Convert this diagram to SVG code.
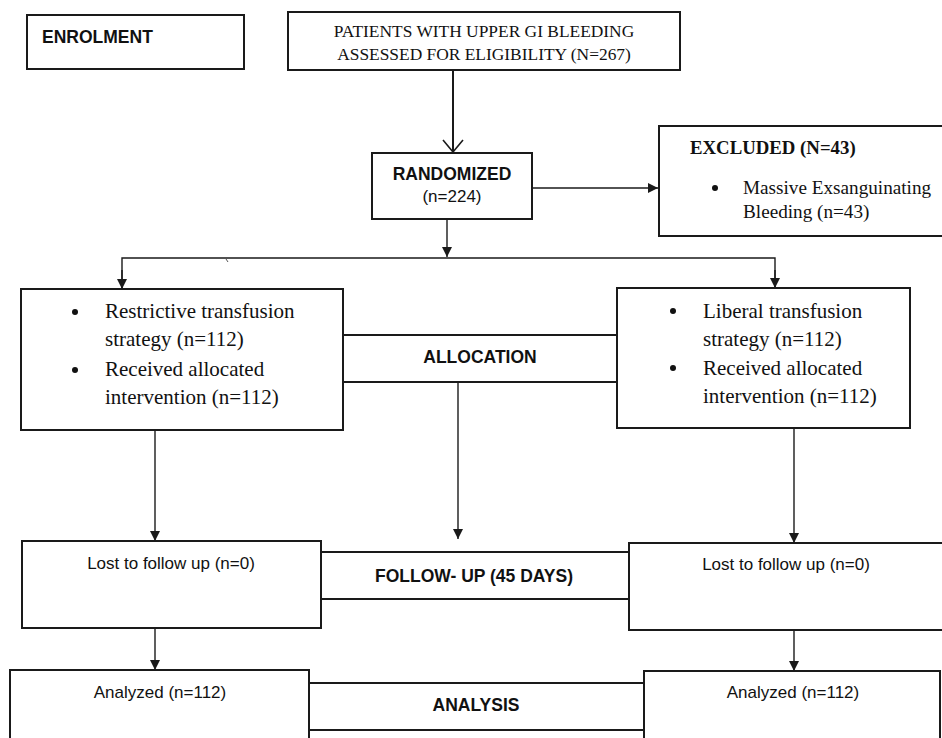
<svg xmlns="http://www.w3.org/2000/svg" width="942" height="738" viewBox="0 0 942 738">
<style>
.box{fill:#fff;stroke:#1a1a1a;stroke-width:2}
.ln{fill:none;stroke:#1a1a1a;stroke-width:1.4}
.sb{font-family:"Liberation Sans",Arial,sans-serif;font-weight:bold;font-size:17.5px;fill:#111}
.sr{font-family:"Liberation Sans",Arial,sans-serif;font-size:17px;fill:#111}
.tr{font-family:"Liberation Serif","Times New Roman",serif;fill:#111}
.tb{font-family:"Liberation Serif","Times New Roman",serif;font-weight:bold;fill:#111}
</style>
<defs>
<marker id="ah" viewBox="0 0 10 10" refX="10" refY="5" markerWidth="10" markerHeight="10" markerUnits="userSpaceOnUse" orient="auto">
<path d="M0,0 L10,5 L0,10 Z" fill="#1a1a1a"/>
</marker>
</defs>
<rect width="942" height="738" fill="#fff"/>
<g id="connectors">
<line x1="453" y1="70" x2="453" y2="151" stroke="#1a1a1a" stroke-width="2"/>
<polyline points="443,140 453,152 463,140" fill="none" stroke="#1a1a1a" stroke-width="1.6"/>
<line class="ln" x1="532" y1="188" x2="658" y2="188" marker-end="url(#ah)"/>
<line class="ln" x1="447" y1="219" x2="447" y2="257" marker-end="url(#ah)"/>
<polyline class="ln" points="122,288 122,258 775,258 775,287"/>
<line class="ln" x1="122" y1="270" x2="122" y2="289" marker-end="url(#ah)"/>
<line class="ln" x1="775" y1="270" x2="775" y2="288" marker-end="url(#ah)"/>
<line x1="226" y1="259" x2="228" y2="262" stroke="#555" stroke-width="1"/>
<line class="ln" x1="155" y1="430" x2="155" y2="541" marker-end="url(#ah)"/>
<line class="ln" x1="458" y1="382" x2="458" y2="539" marker-end="url(#ah)"/>
<line class="ln" x1="794" y1="428" x2="794" y2="543" marker-end="url(#ah)"/>
<line class="ln" x1="155" y1="628" x2="155" y2="670" marker-end="url(#ah)"/>
<line class="ln" x1="794" y1="630" x2="794" y2="671" marker-end="url(#ah)"/>
</g>
<g id="enrolment">
<rect class="box" x="27" y="15" width="217" height="54"/>
<text class="sb" x="42" y="43">ENROLMENT</text>
</g>
<g id="patients">
<rect class="box" x="288" y="12" width="392" height="58"/>
<text class="tr" x="484" y="37" font-size="17.4" text-anchor="middle">PATIENTS WITH UPPER GI BLEEDING</text>
<text class="tr" x="484" y="60" font-size="17.4" text-anchor="middle">ASSESSED FOR ELIGIBILITY (N=267)</text>
</g>
<g id="randomized">
<rect class="box" x="372" y="153" width="160" height="66"/>
<text class="sb" x="452" y="180" text-anchor="middle">RANDOMIZED</text>
<text class="sr" x="452" y="202" text-anchor="middle" font-size="17.5">(n=224)</text>
</g>
<g id="excluded">
<rect class="box" x="659" y="126" width="290" height="110"/>
<text class="tb" x="690" y="154" font-size="18.8">EXCLUDED (N=43)</text>
<circle cx="715" cy="188" r="3" fill="#111"/>
<text class="tr" x="743" y="194" font-size="19.2">Massive Exsanguinating</text>
<text class="tr" x="743" y="218" font-size="19.2">Bleeding (n=43)</text>
</g>
<g id="allocation">
<rect class="box" x="343" y="335" width="274" height="47"/>
<text class="sb" x="480" y="363" text-anchor="middle">ALLOCATION</text>
</g>
<g id="restrictive">
<rect class="box" x="21" y="289" width="322" height="141"/>
<circle cx="75" cy="312" r="3" fill="#111"/>
<circle cx="75" cy="370" r="3" fill="#111"/>
<text class="tr" x="105" y="318" font-size="21">Restrictive transfusion</text>
<text class="tr" x="105" y="346" font-size="21">strategy (n=112)</text>
<text class="tr" x="105" y="376" font-size="21">Received allocated</text>
<text class="tr" x="105" y="404" font-size="21">intervention (n=112)</text>
</g>
<g id="liberal">
<rect class="box" x="617" y="288" width="293" height="140"/>
<circle cx="673" cy="311" r="3" fill="#111"/>
<circle cx="673" cy="368" r="3" fill="#111"/>
<text class="tr" x="703" y="318" font-size="21">Liberal transfusion</text>
<text class="tr" x="703" y="346" font-size="21">strategy (n=112)</text>
<text class="tr" x="703" y="375" font-size="21">Received allocated</text>
<text class="tr" x="703" y="403" font-size="21">intervention (n=112)</text>
</g>
<g id="followup">
<rect class="box" x="321" y="552" width="308" height="47"/>
<text class="sb" x="474" y="582" text-anchor="middle">FOLLOW- UP (45 DAYS)</text>
</g>
<g id="lost-left">
<rect class="box" x="22" y="541" width="299" height="87"/>
<text class="sr" x="171" y="569" text-anchor="middle">Lost to follow up (n=0)</text>
</g>
<g id="lost-right">
<rect class="box" x="629" y="543" width="320" height="87"/>
<text class="sr" x="786" y="570" text-anchor="middle">Lost to follow up (n=0)</text>
</g>
<g id="analysis">
<rect class="box" x="309" y="683" width="335" height="47"/>
<text class="sb" x="476" y="711" text-anchor="middle">ANALYSIS</text>
</g>
<g id="analyzed-left">
<rect class="box" x="10" y="670" width="299" height="90"/>
<text class="sr" x="160" y="698" text-anchor="middle">Analyzed (n=112)</text>
</g>
<g id="analyzed-right">
<rect class="box" x="644" y="671" width="296" height="90"/>
<text class="sr" x="793" y="698" text-anchor="middle">Analyzed (n=112)</text>
</g>
</svg>
